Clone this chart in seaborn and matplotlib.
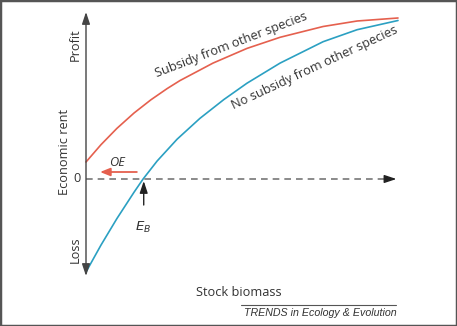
import matplotlib
matplotlib.use("Agg")
import matplotlib.pyplot as plt
import seaborn as sns
import pandas as pd
from matplotlib.patches import Rectangle

# Stock biomass (0..1) and economic rent (arbitrary units)
subsidy_x = [0.0, 0.048, 0.099, 0.154, 0.208, 0.260, 0.301, 0.407, 0.516, 0.622, 0.760, 0.869, 1.0]
subsidy_y = [0.17, 0.343, 0.506, 0.66, 0.792, 0.904, 0.984, 1.159, 1.306, 1.417, 1.525, 1.58, 1.61]
nosub_x = [0.0, 0.048, 0.099, 0.154, 0.183, 0.228, 0.292, 0.365, 0.442, 0.516, 0.622, 0.760, 0.869, 1.0]
nosub_y = [-0.93, -0.661, -0.396, -0.132, 0.0, 0.18, 0.398, 0.606, 0.795, 0.958, 1.159, 1.373, 1.493, 1.585]

series_labels = ["Subsidy from other species", "No subsidy from other species"]
colors = ["#e5604e", "#2ba0c2"]

df = pd.concat([
    pd.DataFrame({"biomass": subsidy_x, "rent": subsidy_y, "series": series_labels[0]}),
    pd.DataFrame({"biomass": nosub_x, "rent": nosub_y, "series": series_labels[1]}),
])

sns.set_theme(style="white")
plt.rcParams["font.family"] = ["Open Sans", "DejaVu Sans"]

fig = plt.figure(figsize=(4.57, 3.26), dpi=100)
ax = fig.add_axes([0, 0, 1, 1])
sns.lineplot(data=df, x="biomass", y="rent", hue="series", palette=colors,
             hue_order=series_labels, legend=False, ax=ax, lw=1.2, sort=False)
for ln in ax.lines:
    ln.set_solid_joinstyle("round")
ax.set_xlim(-86 / 312, (457 - 86) / 312)
ax.set_ylim(-1.47, 1.79)
ax.axis("off")

axis_col = "#444444"
txt_col = "#333333"
# y axis (double arrow)
ax.annotate("", xy=(0, 1.67), xytext=(0, -0.97),
            arrowprops=dict(arrowstyle="<|-|>,head_length=0.6,head_width=0.2",
                            color=axis_col, lw=1.0, shrinkA=0, shrinkB=0))
# dashed zero line
ax.plot([0, 0.97], [0, 0], color="#777777", lw=1.2, ls=(0, (4, 3)))
ax.annotate("", xy=(0.995, 0), xytext=(0.965, 0),
            arrowprops=dict(arrowstyle="-|>,head_length=0.6,head_width=0.2",
                            color="#222222", lw=1.0, shrinkA=0, shrinkB=0))

fs = 9.2
ax.text(-0.035, 1.34, "Profit", rotation=90, ha="center", va="center", fontsize=fs, color=txt_col)
ax.text(-0.068, 0.27, "Economic rent", rotation=90, ha="center", va="center", fontsize=fs, color=txt_col)
ax.text(-0.029, 0.0, "0", ha="center", va="center", fontsize=fs, color=txt_col)
ax.text(-0.035, -0.71, "Loss", rotation=90, ha="center", va="center", fontsize=fs, color=txt_col)
ax.text(0.489, -1.13, "Stock biomass", ha="center", va="center", fontsize=fs, color=txt_col)

ax.text(0.466, 1.34, series_labels[0], rotation=21, ha="center", va="center",
        fontsize=fs, color=txt_col, rotation_mode="anchor")
ax.text(0.733, 1.11, series_labels[1], rotation=25, ha="center", va="center",
        fontsize=fs, color=txt_col, rotation_mode="anchor")

# OE arrow
ax.annotate("", xy=(0.045, 0.07), xytext=(0.163, 0.07),
            arrowprops=dict(arrowstyle="-|>,head_length=0.5,head_width=0.2",
                            color="#e5604e", lw=1.3, shrinkA=0, shrinkB=0))
ax.text(0.099, 0.17, "OE", style="italic", ha="center", va="center", fontsize=fs, color=txt_col)

# E_B arrow
ax.annotate("", xy=(0.185, -0.02), xytext=(0.185, -0.26),
            arrowprops=dict(arrowstyle="-|>,head_length=0.6,head_width=0.2",
                            color="#222222", lw=1.0, shrinkA=0, shrinkB=0))
ax.text(0.183, -0.48, r"$\mathit{E}_{\mathit{B}}$", ha="center", va="center", fontsize=fs + 0.3,
        color=txt_col)

# footer
ax.plot([0.497, 0.994], [-1.26, -1.26], color="#555555", lw=0.8)
ax.text(0.994, -1.34, "TRENDS in Ecology & Evolution", ha="right", va="center",
        fontsize=7.7, style="italic", color=txt_col, family=["Liberation Sans", "DejaVu Sans"])

fig.patches.append(Rectangle((0, 0), 1, 1, transform=fig.transFigure, fill=False,
                             edgecolor="#555555", lw=2.5))

fig.savefig("out.png", dpi=100)
